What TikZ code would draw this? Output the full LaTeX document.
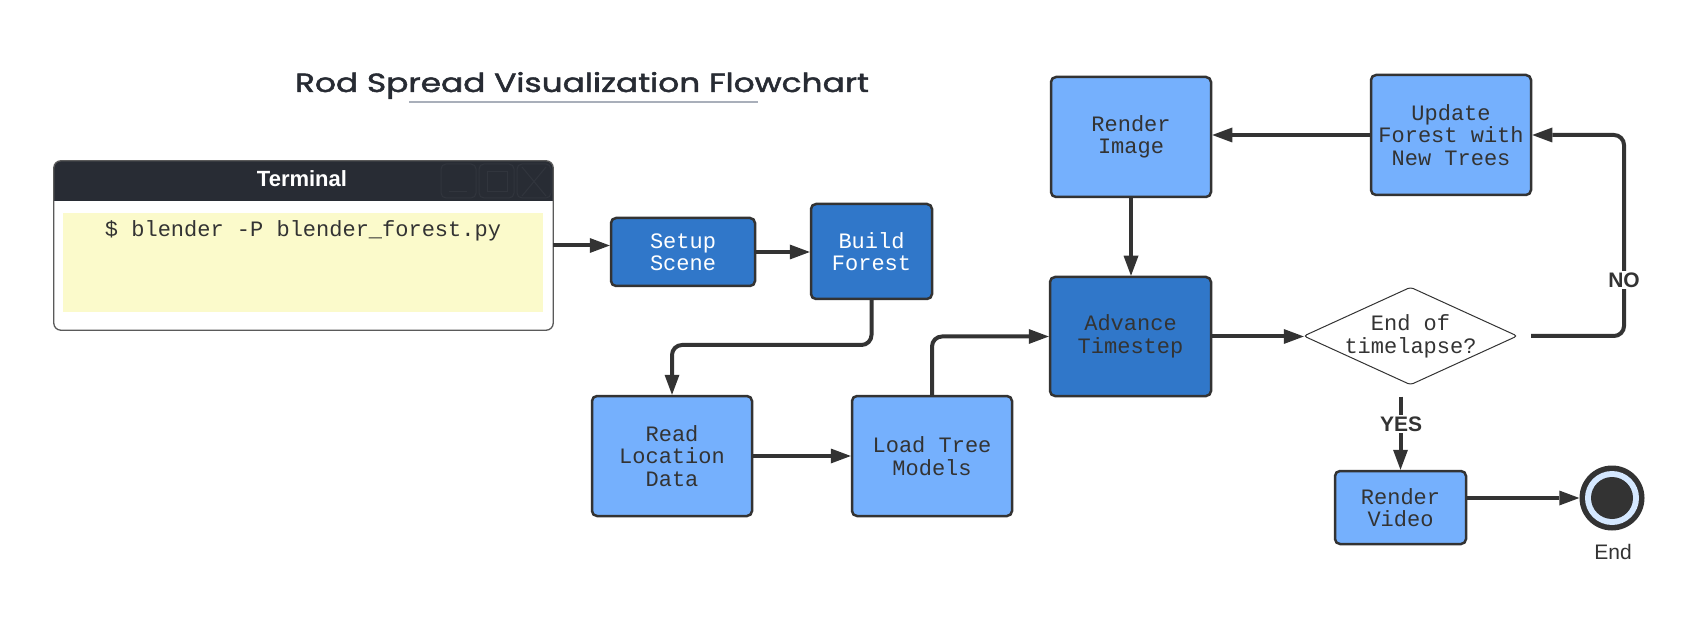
\documentclass[tikz,border=0pt]{standalone}
\usepackage{graphicx}
\usepackage{fontspec}
\setmainfont{Liberation Sans}
\newfontfamily\monofont{Liberation Mono}
\newfontfamily\titlefont[FakeBold=1.6]{Poppins}
\usetikzlibrary{arrows.meta}
\definecolor{dkblue}{HTML}{3077C9}
\definecolor{ltblue}{HTML}{75B0FD}
\definecolor{ink}{HTML}{333333}
\definecolor{termhead}{HTML}{282C34}
\definecolor{termbtn}{HTML}{31353D}
\definecolor{termyellow}{HTML}{FBFACB}
\definecolor{termborder}{HTML}{5A5A5A}
\definecolor{ulgray}{HTML}{A9AFBA}
\definecolor{endring}{HTML}{D5E8FF}
\definecolor{titleink}{HTML}{272B33}
\begin{document}
\begin{tikzpicture}[x=1pt,y=-1pt,
  box/.style={draw=ink, line width=2.5pt, rounded corners=5pt, align=center, inner sep=0pt,
    font=\monofont\fontsize{22}{22.5}\selectfont},
  darkbox/.style={box, fill=dkblue, text=white},
  darkboxink/.style={box, fill=dkblue, text=ink},
  lightbox/.style={box, fill=ltblue, text=ink},
  conn/.style={draw=ink, line width=4pt, rounded corners=10pt,
    -{Triangle[length=20pt,width=15pt,line width=0pt]}},
  lbl/.style={font=\bfseries\fontsize{21}{21}\selectfont, text=ink, fill=white, inner sep=2pt},
  btn/.style={draw=termbtn, line width=1pt}
]
\useasboundingbox (0,0) rectangle (1703,636);

% title
\node[anchor=base, text=titleink, inner sep=0pt] (title) at (582,92)
  {\resizebox{574pt}{20pt}{\titlefont Rod Spread Visualization Flowchart}};
\draw[ulgray, line width=2pt] (409,102) -- (758,102);

% terminal
\node[fill=white, rounded corners=7pt, minimum width=499pt, minimum height=169pt, inner sep=0pt] (term) at (303.5,245.5) {};
\begin{scope}
  \clip[rounded corners=7pt] (term.north west) rectangle (term.south east);
  \fill[termhead] (term.north west) rectangle ([yshift=-40pt]term.north east);
\end{scope}
\draw[termborder, line width=1.3pt, rounded corners=7pt] (term.north west) rectangle (term.south east);
\fill[termyellow] (63,213) rectangle (543,312);
\node[text=white, font=\bfseries\fontsize{22}{22}\selectfont] (termtitle) at (302,179) {Terminal};
\node[text=ink, font=\monofont\fontsize{22}{22}\selectfont] (cmd) at (303,231) {\$ blender -P blender\_forest.py};
\draw[btn, rounded corners=5pt] (441,164) rectangle (476,198);
\draw[btn, rounded corners=5pt] (479,164) rectangle (514,198);
\draw[btn, rounded corners=5pt] (517,164) rectangle (551,198);
\draw[btn] (449,192) -- (467,192);
\draw[btn] (487,172) rectangle (507,192);
\draw[btn] (522,167) -- (546,196);
\draw[btn] (546,167) -- (522,196);

% process boxes
\node[darkbox, minimum width=144pt, minimum height=68pt] (setup) at (683,252) {Setup\\Scene};
\node[darkbox, minimum width=121pt, minimum height=95pt] (build) at (871.5,251.5) {Build\\Forest};
\node[lightbox, minimum width=160pt, minimum height=120pt] (read) at (672,456) {Read\\Location\\Data};
\node[lightbox, minimum width=160pt, minimum height=120pt] (load) at (932,456) {Load Tree\\Models};
\node[darkboxink, minimum width=161pt, minimum height=119pt] (adv) at (1130.5,336.5) {Advance\\Timestep};
\node[lightbox, minimum width=160pt, minimum height=120pt] (rimg) at (1131,137) {Render\\Image};
\node[lightbox, minimum width=160pt, minimum height=120pt] (upd) at (1451,135) {Update\\Forest with\\New Trees};
\node[lightbox, minimum width=131pt, minimum height=73pt] (rvid) at (1400.5,507.5) {Render\\Video};

% decision
\node[minimum width=213pt, minimum height=97pt, inner sep=0pt, align=center, text=ink,
  font=\monofont\fontsize{22}{23}\selectfont] (dec) at (1410.5,336) {End of\\timelapse?};
\draw[ink, line width=1pt, rounded corners=3pt, fill=none]
  (dec.west) -- (dec.north) -- (dec.east) -- (dec.south) -- cycle;

% end circle
\node[circle, fill=ink, minimum size=65pt, inner sep=0pt] (endc) at (1612,498) {};
\fill[endring] (endc.center) circle (27pt);
\fill[ink] (endc.center) circle (21pt);
\node[text=ink, font=\fontsize{21}{21}\selectfont] (endlbl) at (1613,552) {End};

% connectors
\draw[conn] (term.east) -- (term.east -| setup.west);
\draw[conn] (setup.east) -- (setup.east -| build.west);
\draw[conn] (build.south) -- (build.south |- 0,345) -- (read.north |- 0,345) -- (read.north);
\draw[conn] (read.east) -- (load.west);
\draw[conn] (load.north) -- (load.north |- adv.west) -- (adv.west);
\draw[conn] (adv.east) -- (adv.east -| dec.west);
\draw[conn] (rimg.south) -- (rimg.south |- adv.north);
\draw[conn] (upd.west) -- (upd.west -| rimg.east);
\coordinate (nostart) at ([xshift=14pt]dec.east);
\coordinate (nocorner) at (1624,336);
\draw[conn] (nostart) -- (nocorner) -- (nocorner |- upd.east) -- (upd.east);
\node[lbl] (nolbl) at (1624,280) {NO};
\coordinate (yesstart) at ([yshift=-12pt]dec.south -| rvid.north);
\draw[conn] (yesstart) -- (rvid.north);
\node[lbl] (yeslbl) at (1401,424) {YES};
\draw[conn] (rvid.east |- endc.west) -- (endc.west);
\end{tikzpicture}
\end{document}
